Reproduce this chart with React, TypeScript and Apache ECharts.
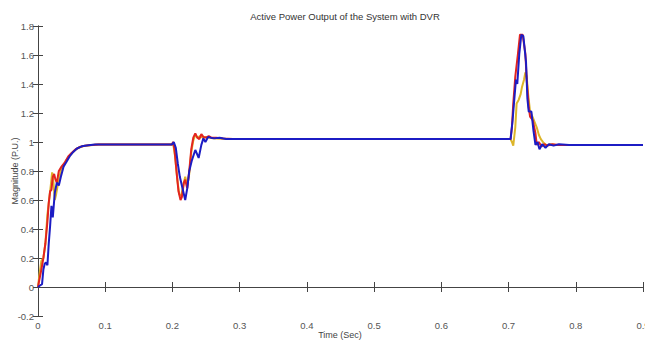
import React, { useEffect, useRef } from "react";
import * as echarts from "echarts";

const titleText = "Active Power Output of the System with DVR";
const xName = "Time (Sec)";
const yName = "Magnitude (P.U.)";

const redT = [0, 0.002, 0.005, 0.008, 0.011, 0.014, 0.016, 0.018, 0.02, 0.022, 0.024, 0.026, 0.028, 0.031, 0.035, 0.04, 0.045, 0.05, 0.056, 0.062, 0.07, 0.08, 0.09, 0.1,
  0.199, 0.201, 0.203, 0.206, 0.209, 0.212, 0.214, 0.217, 0.219, 0.222, 0.225, 0.228, 0.231, 0.234, 0.237, 0.24, 0.243, 0.246, 0.25, 0.254, 0.258, 0.265, 0.275, 0.29, 0.3,
  0.703, 0.705, 0.707, 0.71, 0.714, 0.717, 0.721, 0.725, 0.727, 0.73, 0.732, 0.736, 0.74, 0.742, 0.745, 0.749, 0.753, 0.758, 0.765, 0.775, 0.9];
const redV = [0, 0.05, 0.12, 0.2, 0.3, 0.45, 0.58, 0.66, 0.67, 0.76, 0.78, 0.74, 0.72, 0.8, 0.83, 0.86, 0.9, 0.925, 0.95, 0.965, 0.975, 0.98, 0.982, 0.982,
  0.982, 1.0, 0.95, 0.8, 0.66, 0.6, 0.62, 0.72, 0.74, 0.68, 0.8, 0.95, 1.03, 1.06, 1.03, 1.02, 1.055, 1.035, 1.03, 1.04, 1.03, 1.03, 1.025, 1.02, 1.02,
  1.02, 1.1, 1.265, 1.45, 1.61, 1.74, 1.74, 1.61, 1.43, 1.24, 1.175, 1.15, 1.06, 0.98, 1.0, 0.97, 0.985, 0.975, 0.985, 0.98, 0.98];

const yellowT = [0, 0.002, 0.005, 0.008, 0.011, 0.014, 0.017, 0.019, 0.021, 0.023, 0.025, 0.027, 0.03, 0.034, 0.038, 0.043, 0.048, 0.054, 0.06, 0.068, 0.078, 0.09, 0.1,
  0.199, 0.201, 0.204, 0.207, 0.21, 0.213, 0.216, 0.219, 0.222, 0.225, 0.228, 0.231, 0.234, 0.237, 0.241, 0.245, 0.25, 0.26, 0.28, 0.3,
  0.703, 0.705, 0.707, 0.71, 0.712, 0.715, 0.718, 0.72, 0.723, 0.725, 0.727, 0.729, 0.732, 0.736, 0.742, 0.745, 0.748, 0.752, 0.757, 0.762, 0.77, 0.9];
const yellowV = [0, 0.08, 0.18, 0.2, 0.3, 0.5, 0.62, 0.7, 0.79, 0.72, 0.6, 0.64, 0.72, 0.8, 0.84, 0.88, 0.91, 0.94, 0.96, 0.972, 0.978, 0.982, 0.982,
  0.982, 0.99, 0.9, 0.75, 0.64, 0.63, 0.7, 0.76, 0.7, 0.78, 0.93, 1.01, 1.05, 1.03, 1.04, 1.03, 1.035, 1.025, 1.02, 1.02,
  1.02, 1.0, 0.975, 1.1, 1.265, 1.29, 1.33, 1.38, 1.43, 1.48, 1.45, 1.335, 1.21, 1.17, 1.1, 1.05, 1.02, 0.995, 0.975, 0.985, 0.98, 0.98];

const blueT = [0, 0.003, 0.006, 0.008, 0.01, 0.012, 0.014, 0.016, 0.018, 0.02, 0.022, 0.025, 0.028, 0.031, 0.034, 0.038, 0.042, 0.047, 0.052, 0.058, 0.065, 0.075, 0.085, 0.1,
  0.199, 0.202, 0.205, 0.208, 0.211, 0.214, 0.217, 0.219, 0.222, 0.225, 0.229, 0.234, 0.239, 0.243, 0.246, 0.249, 0.253, 0.257, 0.262, 0.27, 0.28, 0.3,
  0.703, 0.706, 0.708, 0.711, 0.713, 0.716, 0.719, 0.722, 0.726, 0.728, 0.73, 0.734, 0.737, 0.74, 0.743, 0.746, 0.75, 0.755, 0.76, 0.767, 0.775, 0.79, 0.9];
const blueV = [0, 0.01, 0.02, 0.12, 0.16, 0.17, 0.15, 0.3, 0.42, 0.56, 0.48, 0.65, 0.72, 0.7, 0.76, 0.83, 0.86, 0.9, 0.93, 0.955, 0.97, 0.978, 0.982, 0.982,
  0.982, 1.0, 0.96, 0.85, 0.76, 0.7, 0.64, 0.6, 0.68, 0.8, 0.875, 0.945, 0.89, 0.98, 1.025, 1.0, 1.035, 1.03, 1.025, 1.03, 1.02, 1.02,
  1.02, 1.15, 1.265, 1.43, 1.4, 1.61, 1.74, 1.73, 1.55, 1.3, 1.21, 1.21, 1.08, 0.98, 1.0, 0.95, 0.985, 0.96, 0.985, 0.975, 0.985, 0.98, 0.98];

const zip = (t: number[], v: number[]) => t.map((x, i) => [x, v[i]]);

export default function App() {
  const ref = useRef<HTMLDivElement>(null);
  useEffect(() => {
    if (!ref.current) return;
    const chart = echarts.init(ref.current, undefined, { renderer: "svg" });
    const font = "Liberation Sans";
    const axisCommon = {
      axisLine: { show: true, lineStyle: { color: "#444", width: 1 } },
      axisTick: { show: true, inside: true, length: 5, lineStyle: { color: "#444" } },
      splitLine: { show: false },
    };
    chart.setOption({
      animation: false,
      backgroundColor: "#fff",
      title: {
        text: titleText,
        left: 340,
        top: 6,
        textAlign: "center",
        textStyle: { fontFamily: font, fontSize: 9.5, fontWeight: "normal", color: "#333" },
      },
      graphic: [
        {
          type: "text", x: 340, y: 335,
          style: { text: xName, fontFamily: font, fontSize: 9, fill: "#444", align: "center", verticalAlign: "middle" },
        },
        {
          type: "text", x: 15, y: 171, rotation: Math.PI / 2,
          style: { text: yName, fontFamily: font, fontSize: 9, fill: "#444", align: "center", verticalAlign: "middle" },
        },
      ],
      grid: { left: 38, right: 2, top: 26, bottom: 26, containLabel: false, outerBoundsMode: "none" },
      xAxis: [
        {
          type: "value", min: 0, max: 0.9, interval: 0.1, position: "bottom",
          axisLabel: { fontFamily: font, fontSize: 9.5, color: "#555", margin: 4 },
          ...axisCommon,
        },
        {
          type: "value", min: 0, max: 0.9, interval: 0.1, position: "top",
          axisLabel: { show: false }, ...axisCommon,
        },
      ],
      yAxis: [
        {
          type: "value", min: -0.2, max: 1.8, interval: 0.2, position: "left",
          axisLabel: { fontFamily: font, fontSize: 9.5, color: "#555", margin: 4 },
          ...axisCommon,
        },
        {
          type: "value", min: -0.2, max: 1.8, interval: 0.2, position: "right",
          axisLabel: { show: false }, ...axisCommon,
        },
      ],
      series: [
        { type: "line", name: "yellow", data: zip(yellowT, yellowV), showSymbol: false, lineStyle: { color: "#dcb52a", width: 2 }, itemStyle: { color: "#dcb52a" } },
        { type: "line", name: "red", data: zip(redT, redV), showSymbol: false, lineStyle: { color: "#e3241f", width: 2 }, itemStyle: { color: "#e3241f" } },
        { type: "line", name: "blue", data: zip(blueT, blueV), showSymbol: false, lineStyle: { color: "#1c1cc4", width: 2 }, itemStyle: { color: "#1c1cc4" } },
      ],
    });
    return () => chart.dispose();
  }, []);
  return <div ref={ref} style={{ position: "fixed", left: 0, top: 0, width: 645, height: 342 }} />;
}
